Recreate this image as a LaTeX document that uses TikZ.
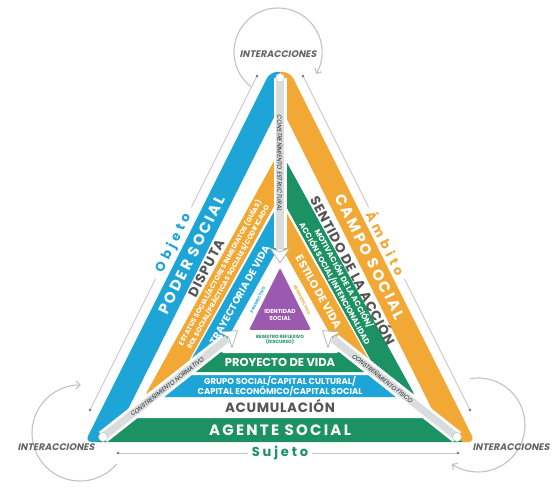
\documentclass[tikz,border=0pt]{standalone}
\usepackage{fontspec}
\setmainfont{Poppins}
\newfontfamily\ifont{Poppins}[FakeSlant=0.2]
\usetikzlibrary{calc,arrows.meta}
\definecolor{cblue}{HTML}{1DA5D7}
\definecolor{corange}{HTML}{F2A835}
\definecolor{cgreen}{HTML}{1B9164}
\definecolor{cpurple}{HTML}{9B59B0}
\definecolor{ctext}{HTML}{555555}
\definecolor{cstrip}{HTML}{D9DDDD}
\definecolor{cline}{HTML}{C2C2C2}
\newcommand\fsz[1]{\fontsize{#1}{#1}\selectfont}
% triangle: apex y, base y, half-slope, style
\newcommand\trifill[4]{\fill[#4] (280,#1) -- ({280-#3*(#2-#1)},#2) -- ({280+#3*(#2-#1)},#2) -- cycle;}
\newcommand\ringfill[6]{%
 \begin{scope}\clip (280,297) -- (280,-300) -- (-700,-300) -- (-700,857) -- (-428,857) -- cycle; \trifill{#1}{#2}{#3}{#4,rounded corners=5pt}\end{scope}
 \begin{scope}\clip (280,297) -- (-428,857) -- (988,857) -- cycle; \trifill{#1}{#2}{#3}{#5,rounded corners=5pt}\end{scope}
 \begin{scope}\clip (280,297) -- (280,-300) -- (1260,-300) -- (1260,857) -- (988,857) -- cycle; \trifill{#1}{#2}{#3}{#6,rounded corners=5pt}\end{scope}}
\tikzset{
  bandtxt/.style={inner sep=0pt, align=center, text=white},
  graytxt/.style={inner sep=0pt, align=center, text=ctext},
  striptxt/.style={inner sep=0pt, text=black!85, font=\ifont\fsz{6}},
  guide/.style={draw=cline, line width=0.7pt},
  interarrow/.style={draw=cline, line width=1.1pt, -{Straight Barb[length=4pt,width=8pt]}},
  intertxt/.style={inner sep=0pt, text=black!60, font=\ifont\bfseries\fsz{9.5}},
  stripbg/.style={white, line width=13pt},
  stripfg/.style={cstrip, line width=7.5pt},
  arrowtip/.style={draw=black!30, fill=white, line width=0.7pt, line join=round},
  enddot/.style={fill=white, draw=black!25, line width=0.5pt},
  guidedot/.style={fill=black!55},
}
\begin{document}
\begin{tikzpicture}[x=1pt,y=-1pt]
\useasboundingbox[fill=white] (0,0) rectangle (560,489);
% ---- layer 1 (outer ring)
\begin{scope}\clip (280,297) -- (280,-300) -- (-700,-300) -- (-700,857) -- (-428,857) -- cycle;
 \fill[cblue,rounded corners=7pt] (270,72) -- (85,442) -- (475,442) -- (290,72) -- cycle; \end{scope}
\begin{scope}\clip (280,297) -- (-428,857) -- (988,857) -- cycle;
 \fill[cgreen,rounded corners=7pt] (270,72) -- (85,442) -- (475,442) -- (290,72) -- cycle; \end{scope}
\begin{scope}\clip (280,297) -- (280,-300) -- (1260,-300) -- (1260,857) -- (988,857) -- cycle;
 \fill[corange,rounded corners=7pt] (270,72) -- (85,442) -- (475,442) -- (290,72) -- cycle; \end{scope}
\trifill{105.7}{418}{0.5}{white,rounded corners=4pt}
% ---- layer 3
\ringfill{150}{397}{0.55}{corange}{cblue}{cgreen}
\trifill{195.6}{375}{0.55}{white,rounded corners=4pt}
% ---- layer 4
\ringfill{201}{372}{0.56}{cblue}{cgreen}{corange}
\trifill{245}{353}{0.56}{white,rounded corners=4pt}
% ---- core
\fill[cpurple,rounded corners=2pt] (280,268) -- (249,330) -- (311,330) -- cycle;
% ---- constraint strips
\coordinate (C) at (280,297);
\coordinate (dT) at (280,78);
\coordinate (dL) at (103,437);
\coordinate (dR) at (457,437);
\coordinate (tT) at (280,263);
\coordinate (tL) at ($(dL)!0.76!(C)$);
\coordinate (tR) at ($(dR)!0.76!(C)$);
\coordinate (bT) at ($(tT)!15pt!(dT)$);
\coordinate (bL) at ($(tL)!15pt!(dL)$);
\coordinate (bR) at ($(tR)!15pt!(dR)$);
\foreach \d/\b in {dT/bT,dL/bL,dR/bR}{
  \draw[stripbg] (\d) -- (\b);
  \draw[stripfg] (\d) -- ($(\b)!-2pt!(\d)$);
}
\foreach \t/\b in {tT/bT,tL/bL,tR/bR}{
  \draw[arrowtip] (\t) -- ($(\b)!10pt!90:(\t)$) -- ($(\b)!4pt!(\t)$) -- ($(\b)!10pt!-90:(\t)$) -- cycle;
}
\foreach \d in {dT,dL,dR}{\draw[enddot] (\d) circle (4.5pt);}
\node[striptxt, rotate=-90] (sT) at (280,163) {CONSTREÑIMIENTO ESTRUCTURAL};
\node[striptxt, rotate=38.3] (sL) at ($(dL)!0.36!(C)$) {CONSTREÑIMIENTO NORMATIVO};
\node[striptxt, rotate=-38.3] (sR) at ($(dR)!0.42!(C)$) {CONSTREÑIMIENTO FÍSICO};
% ---- band texts
\node[bandtxt, rotate=63.43, font=\bfseries\fsz{15}\addfontfeatures{LetterSpace=15}] (poder) at (192,255) {PODER SOCIAL};
\node[bandtxt, rotate=-63.43, font=\bfseries\fsz{15}\addfontfeatures{LetterSpace=15}] (campo) at (370,257) {CAMPO SOCIAL};
\node[bandtxt, font=\bfseries\fsz{15}\addfontfeatures{LetterSpace=15}] (agente) at (280,430) {AGENTE SOCIAL};
\node[graytxt, rotate=62.3, font=\bfseries\fsz{13.5}\addfontfeatures{LetterSpace=6}] (disputa) at (206.2,268) {DISPUTA};
\node[graytxt, rotate=-62.3, font=\bfseries\fsz{13.5}\addfontfeatures{LetterSpace=5}] (sentido) at (354,270) {SENTIDO DE LA ACCIÓN};
\node[graytxt, font=\bfseries\fsz{13.5}\addfontfeatures{LetterSpace=5}] (acum) at (280,406) {ACUMULACIÓN};
\node[bandtxt, rotate=61.2, font=\bfseries\fontsize{6.8}{8}\selectfont] (estatus) at (223.8,275) {ESTATUS SOCIAL/ACTORES INMEDIATOS (GUÍAS)\\ROL SOCIAL/PRÁCTICAS SOCIALES/CODIFICADO};
\node[bandtxt, rotate=-61.2, font=\bfseries\fontsize{7.8}{8.8}\selectfont] (motiv) at (339.5,281) {MOTIVACIÓN DE LA ACCIÓN/\\ACCIÓN SOCIAL/INTENCIONALIDAD};
\node[bandtxt, font=\bfseries\fontsize{8.5}{10}\selectfont] (grupo) at (280,386) {GRUPO SOCIAL/CAPITAL CULTURAL/\\CAPITAL ECONÓMICO/CAPITAL SOCIAL};
\node[bandtxt, rotate=60.75, font=\bfseries\fsz{10}] (trayect) at (239.7,295) {TRAYECTORIA DE VIDA};
\node[bandtxt, rotate=-60.75, font=\bfseries\fsz{11}] (estilo) at (318.6,292) {ESTILO DE VIDA};
\node[bandtxt, font=\bfseries\fsz{11.5}] (proyecto) at (280,362.5) {PROYECTO DE VIDA};
% ---- core texts
\node[bandtxt, font=\bfseries\fontsize{5.8}{7.5}\selectfont] (ident) at (280,315) {IDENTIDAD\\SOCIAL};
\node[inner sep=0pt, align=center, text=cgreen, font=\bfseries\fontsize{4.6}{5.6}\selectfont] (registro) at (280,340) {REGISTRO REFLEXIVO\\(DISCURSO)};
\node[inner sep=0pt, text=cblue, rotate=63.43, font=\bfseries\fsz{4}] (prosp) at (258,300) {PROSPECTIVO};
\node[inner sep=0pt, text=corange, rotate=-63.43, font=\bfseries\fsz{4}] (retro) at (302,300) {RETROSPECTIVO};
% ---- outer guides
\coordinate (oT) at (257,76); \coordinate (oB) at (90,410);
\coordinate (aT) at (303,76); \coordinate (aB) at (470,410);
\coordinate (uL) at (118,453); \coordinate (uR) at (458,453);
\node[inner sep=0pt, text=cblue, rotate=63.43, font=\bfseries\fsz{13}\addfontfeatures{LetterSpace=30}] (objeto) at ($(oT)!0.5!(oB)$) {Objeto};
\node[inner sep=0pt, text=corange, rotate=-63.43, font=\bfseries\fsz{13}\addfontfeatures{LetterSpace=30}] (ambito) at ($(aT)!0.5!(aB)$) {Ámbito};
\node[inner sep=0pt, text=cgreen, font=\bfseries\fsz{13}\addfontfeatures{LetterSpace=22}] (sujeto) at (280,453) {Sujeto};
\draw[guide] (oT) -- ($(objeto.center)!40pt!(oT)$);
\draw[guide] ($(objeto.center)!40pt!(oB)$) -- (oB);
\draw[guide] (aT) -- ($(ambito.center)!40pt!(aT)$);
\draw[guide] ($(ambito.center)!40pt!(aB)$) -- (aB);
\draw[guide] (uL) -- ($(sujeto.center)!32pt!(uL)$);
\draw[guide] ($(sujeto.center)!32pt!(uR)$) -- (uR);
\foreach \p in {oT,oB,aT,aB,uL,uR}{\fill[guidedot] (\p) circle (1.4pt);}
% ---- interactions
\coordinate (cT) at (278,52);
\coordinate (cL) at (80,433);
\coordinate (cR) at (478,425);
\draw[interarrow] (cT) ++(128:44) arc[start angle=128, end angle=390, radius=44];
\draw[interarrow] (cL) ++(40:48) arc[start angle=40, end angle=271, radius=48];
\draw[interarrow] (cR) ++(-100:47) arc[start angle=-100, end angle=124, radius=47];
\node[intertxt] (iT) at (278,54) {INTERACCIONES};
\node[intertxt] (iL) at (56,447) {INTERACCIONES};
\node[intertxt] (iR) at (511,447) {INTERACCIONES};
\end{tikzpicture}
\end{document}
